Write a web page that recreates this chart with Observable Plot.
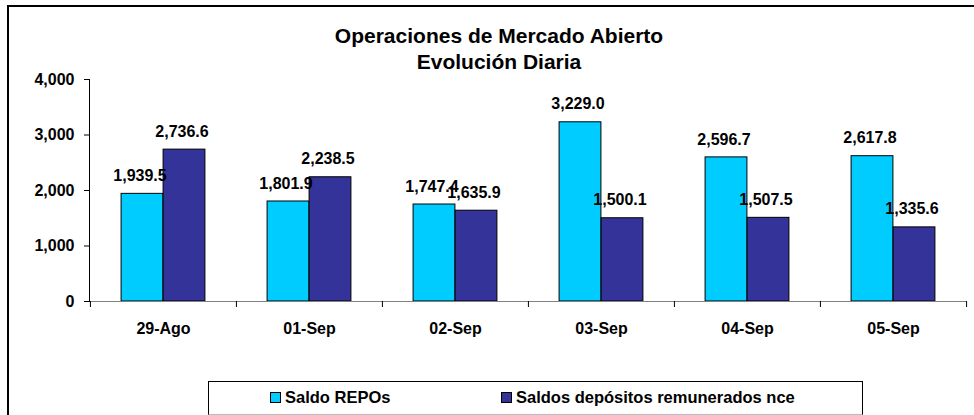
<!DOCTYPE html>
<html>
<head>
<meta charset="utf-8">
<script src="https://cdn.jsdelivr.net/npm/d3@7"></script>
<script src="https://cdn.jsdelivr.net/npm/@observablehq/plot@0.6"></script>
<style>
  html, body { margin: 0; padding: 0; background: #fff; }
  #wrap { position: relative; width: 974px; height: 415px; overflow: hidden; background: #fff;
          font-family: "Liberation Sans", Arial, sans-serif; }
  #frame { position: absolute; left: 7px; top: 5px; width: 2000px; height: 2000px;
           border-left: 2px solid #000; border-top: 2px solid #000; box-sizing: border-box; }
  #title { position: absolute; left: 12px; top: 23px; width: 974px; text-align: center;
           font-weight: bold; font-size: 21px; line-height: 26px; color: #000; }
  #chart { position: absolute; left: 0; top: 0; }
  #legend { position: absolute; left: 208px; top: 381px; width: 655px; height: 34px; box-sizing: border-box;
            border: 1px solid #000; border-bottom-color: #bbb; font-weight: bold; font-size: 16.5px; }
  .item { position: absolute; top: 6px; display: flex; align-items: center; white-space: nowrap; }
  .sw { width: 9px; height: 9px; border: 1px solid #000; margin-right: 4px; }
</style>
</head>
<body>
<div id="wrap">
  <div id="frame"></div>
  <div id="title">Operaciones de Mercado Abierto<br>Evolución Diaria</div>
  <div id="chart"></div>
  <div id="legend"></div>
</div>
<script>
const categories = ["29-Ago", "01-Sep", "02-Sep", "03-Sep", "04-Sep", "05-Sep"];
const seriesNames = ["Saldo REPOs", "Saldos depósitos remunerados nce"];
const repos = [1939.5, 1801.9, 1747.4, 3229.0, 2596.7, 2617.8];
const depositos = [2736.6, 2238.5, 1635.9, 1500.1, 1507.5, 1335.6];
const yTicks = [0, 1000, 2000, 3000, 4000];
const colors = ["#00CCFF", "#333399"];

const W = 974, H = 415;
const mL = 89, mR = 8, mT = 79, mB = 114;
const step = (W - mL - mR) / categories.length;
const barW = 42, gap = (step - 2 * barW) / 2;

const rows0 = categories.map((c, i) => ({cat: c, v: repos[i]}));
const rows1 = categories.map((c, i) => ({cat: c, v: depositos[i]}));
const fmt = d3.format(",.1f");

const plot = Plot.plot({
  width: W, height: H,
  marginLeft: mL, marginRight: mR, marginTop: mT, marginBottom: mB,
  style: {fontFamily: "'Liberation Sans', Arial, sans-serif", fontWeight: "bold", fontSize: "16px", color: "#000", background: "transparent"},
  x: {domain: categories, padding: 0, axis: null},
  y: {domain: [0, 4000], axis: null},
  marks: [
    Plot.barY(rows0, {x: "cat", y: "v", fill: colors[0], stroke: "#000", strokeWidth: 1,
      insetLeft: gap, insetRight: step - gap - barW}),
    Plot.barY(rows1, {x: "cat", y: "v", fill: colors[1], stroke: "#000", strokeWidth: 1,
      insetLeft: gap + barW, insetRight: gap}),
    Plot.ruleY([0], {stroke: "#808080", strokeWidth: 1}),
    Plot.frame({anchor: "left", stroke: "#000"}),
    Plot.ruleX(categories, {x: d => d, y1: 0, y2: 0, dx: -step / 2, insetBottom: -6, stroke: "#000"}),
    Plot.ruleX([categories[categories.length - 1]], {x: d => d, y1: 0, y2: 0, dx: step / 2, insetBottom: -6, stroke: "#000"}),
    Plot.axisY({ticks: yTicks, tickFormat: d3.format(","), tickSize: 5, tickPadding: 10, fontSize: 16, fontWeight: "bold", label: null, stroke: "#000"}),
    Plot.axisX({tickSize: 0, tickPadding: 21, fontSize: 16, fontWeight: "bold", label: null}),
    Plot.text(rows0, {x: "cat", y: "v", text: d => fmt(d.v), dx: -(step / 2 - gap - barW / 2) - 2.5, dy: -18,
      fontSize: 16, fontWeight: "bold", fill: "#000"}),
    Plot.text(rows1, {x: "cat", y: "v", text: d => fmt(d.v), dx: (step / 2 - gap - barW / 2) - 2.5, dy: -18,
      fontSize: 16, fontWeight: "bold", fill: "#000"})
  ]
});
document.getElementById("chart").appendChild(plot);

const legend = document.getElementById("legend");
const lx = [61, 292];
seriesNames.forEach((name, i) => {
  const it = document.createElement("div");
  it.className = "item";
  it.style.left = lx[i] + "px";
  const sw = document.createElement("div");
  sw.className = "sw";
  sw.style.background = colors[i];
  const t = document.createElement("span");
  t.textContent = name;
  it.appendChild(sw); it.appendChild(t);
  legend.appendChild(it);
});
</script>
</body>
</html>
